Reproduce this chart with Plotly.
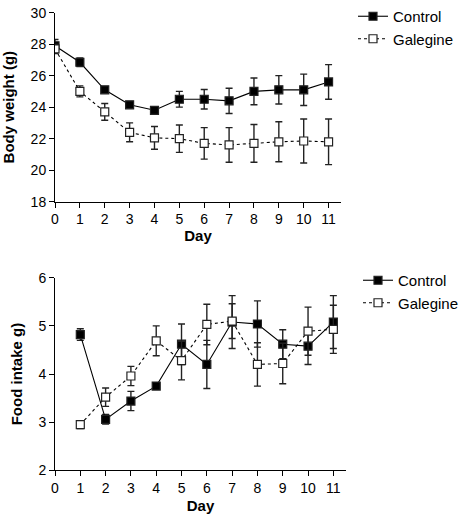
import plotly.graph_objects as go

# ---- Data ----
days_bw = list(range(0, 12))
bw_control = [27.9, 26.85, 25.1, 24.15, 23.8, 24.5, 24.5, 24.4, 25.0, 25.1, 25.1, 25.6]
bw_control_err = [0.4, 0.27, 0.15, 0.15, 0.15, 0.5, 0.62, 0.8, 0.85, 0.9, 1.0, 1.1]
bw_galegine = [27.7, 25.0, 23.7, 22.4, 22.05, 22.0, 21.7, 21.6, 21.7, 21.8, 21.85, 21.8]
bw_galegine_err = [0.3, 0.35, 0.53, 0.6, 0.72, 0.87, 1.0, 1.1, 1.2, 1.27, 1.4, 1.45]

days_fi = list(range(1, 12))
fi_control = [4.82, 3.06, 3.44, 3.75, 4.62, 4.2, 5.08, 5.04, 4.62, 4.58, 5.08]
fi_control_err = [0.12, 0.1, 0.2, 0.05, 0.42, 0.5, 0.55, 0.48, 0.3, 0.38, 0.55]
fi_galegine = [2.95, 3.52, 3.96, 4.69, 4.28, 5.03, 5.1, 4.2, 4.22, 4.89, 4.93]
fi_galegine_err = [0.08, 0.19, 0.2, 0.31, 0.4, 0.42, 0.36, 0.45, 0.42, 0.5, 0.5]

x_ticks = list(range(0, 12))
bw_ticks = [18, 20, 22, 24, 26, 28, 30]
fi_ticks = [2, 3, 4, 5, 6]

W, H = 464, 516
FONT = "Liberation Sans, Arial, Helvetica, sans-serif"
ERRC = "#222222"

def err(v):
    return dict(type="data", array=v, visible=True, color=ERRC, thickness=1.4, width=3.5)

fig = go.Figure()

def add(x, y, e, name, xa, ya, legend, filled):
    fig.add_trace(go.Scatter(
        x=x, y=y, error_y=err(e), name=name, xaxis=xa, yaxis=ya, legend=legend,
        mode="lines+markers",
        line=dict(color="black", width=1.1, dash=None if filled else "dot"),
        marker=dict(symbol="square", size=8,
                    color="black" if filled else "white",
                    line=dict(color="#222222", width=1.2)),
    ))

add(days_bw, bw_control, bw_control_err, "Control", "x", "y", "legend", True)
add(days_bw, bw_galegine, bw_galegine_err, "Galegine", "x", "y", "legend", False)
add(days_fi, fi_control, fi_control_err, "Control", "x2", "y2", "legend2", True)
add(days_fi, fi_galegine, fi_galegine_err, "Galegine", "x2", "y2", "legend2", False)

axis_common = dict(
    showgrid=False, zeroline=False, showline=True, linecolor="black", linewidth=1,
    ticks="outside", ticklen=5, tickwidth=1, tickcolor="black",
    tickfont=dict(family=FONT, size=14, color="black"), automargin=False,
)

def px_x(p):
    return p / W

def px_y(p):
    return 1 - p / H

fig.update_layout(
    width=W, height=H,
    margin=dict(l=0, r=0, t=0, b=0),
    plot_bgcolor="white", paper_bgcolor="white",
    font=dict(family=FONT, color="black"),
    xaxis=dict(**axis_common, domain=[px_x(55), px_x(341)], range=[0, 11.5],
               tickvals=x_ticks, anchor="y",
               title=dict(text="<b>Day</b>", font=dict(family=FONT, size=15), standoff=0)),
    yaxis=dict(**axis_common, domain=[px_y(201), px_y(11.7)], range=[18, 30],
               tickvals=bw_ticks, anchor="x",
               title=dict(text="<b>Body weight (g)</b>", font=dict(family=FONT, size=15), standoff=12)),
    xaxis2=dict(**axis_common, domain=[px_x(55), px_x(346)], range=[0, 11.5],
                tickvals=x_ticks, anchor="y2",
                title=dict(text="<b>Day</b>", font=dict(family=FONT, size=15), standoff=5)),
    yaxis2=dict(**axis_common, domain=[px_y(470.3), px_y(277.3)], range=[2, 6],
                tickvals=fi_ticks, anchor="x2",
                title=dict(text="<b>Food intake g)</b>", font=dict(family=FONT, size=15), standoff=12)),
    legend=dict(x=px_x(353), y=px_y(-1), xanchor="left", yanchor="top",
                font=dict(family=FONT, size=15), bgcolor="rgba(0,0,0,0)",
                itemclick=False, tracegroupgap=0),
    legend2=dict(x=px_x(358), y=px_y(264), xanchor="left", yanchor="top",
                 font=dict(family=FONT, size=15), bgcolor="rgba(0,0,0,0)",
                 itemclick=False, tracegroupgap=0),
)

fig.write_html("out.html", config={"displayModeBar": False},
               post_script="document.body.style.margin='0';document.body.style.padding='0';")
